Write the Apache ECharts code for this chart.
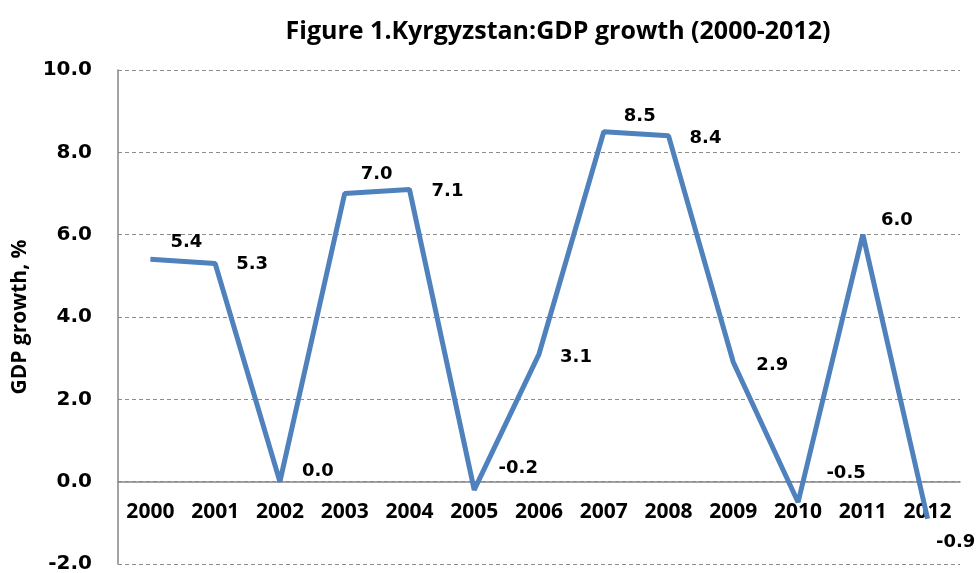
<!DOCTYPE html>
<html>
<head>
<meta charset="utf-8">
<script src="https://cdn.jsdelivr.net/npm/echarts@6/dist/echarts.min.js"></script>
<style>
html,body{margin:0;padding:0;background:#fff;}
#chart{width:976px;height:573px;}
</style>
</head>
<body>
<div id="chart"></div>
<script>
var years = ['2000','2001','2002','2003','2004','2005','2006','2007','2008','2009','2010','2011','2012'];
var gdpGrowth = [5.4, 5.3, 0.0, 7.0, 7.1, -0.2, 3.1, 8.5, 8.4, 2.9, -0.5, 6.0, -0.9];
var yTicks = [-2, 0, 2, 4, 6, 8, 10];

// label placement offsets (style only)
var labelOffsets = [[36,-17],[37,1],[38,-10],[32,-19],[38,2],[44,-22],[37,3],[36,-15],[37,2],[39,3],[48,-29],[34,-14],[28,24]];

var seriesData = gdpGrowth.map(function (v, i) {
  return { value: v, label: { offset: labelOffsets[i] } };
});

var chart = echarts.init(document.getElementById('chart'));
chart.setOption({
  animation: false,
  backgroundColor: '#ffffff',
  title: {
    text: 'Figure 1.Kyrgyzstan:GDP growth (2000-2012)',
    left: 553,
    top: 14,
    textAlign: 'center',
    textStyle: { fontFamily: 'Open Sans', fontWeight: 'bold', fontSize: 25, color: '#000' }
  },
  grid: { left: 118, right: 16, top: 70, bottom: 9, containLabel: false, outerBoundsMode: 'none' },
  xAxis: {
    type: 'category',
    data: years,
    boundaryGap: true,
    axisLine: { onZero: true, lineStyle: { color: '#868686', width: 1.5 } },
    axisTick: { show: false },
    axisLabel: { margin: -62, fontFamily: 'Open Sans', fontWeight: 'bold', fontSize: 21, color: '#000' },
    splitLine: { show: false }
  },
  yAxis: {
    type: 'value',
    min: yTicks[0],
    max: yTicks[yTicks.length - 1],
    interval: 2,
    name: 'GDP growth, %',
    nameLocation: 'middle',
    nameGap: 87,
    nameTextStyle: { fontFamily: 'Open Sans', fontWeight: 'bold', fontSize: 21, color: '#000' },
    axisLine: { show: true, lineStyle: { color: '#868686', width: 1.5 } },
    axisTick: { show: false },
    axisLabel: {
      margin: 26,
      fontFamily: 'DejaVu Sans',
      fontWeight: 'bold',
      fontSize: 20,
      color: '#000',
      formatter: function (v) { return v.toFixed(1); }
    },
    splitLine: { show: true, lineStyle: { color: '#8c8c8c', type: [4, 3], width: 1 } }
  },
  series: [{
    type: 'line',
    data: seriesData,
    symbol: 'circle',
    symbolSize: 0,
    showSymbol: true,
    itemStyle: { color: '#4F81BD' },
    lineStyle: { color: '#4F81BD', width: 5 },
    label: {
      show: true,
      position: 'inside',
      fontFamily: 'DejaVu Sans',
      fontWeight: 'bold',
      fontSize: 18,
      color: '#000',
      formatter: function (p) { return p.value.toFixed(1); }
    }
  }]
});
</script>
</body>
</html>
